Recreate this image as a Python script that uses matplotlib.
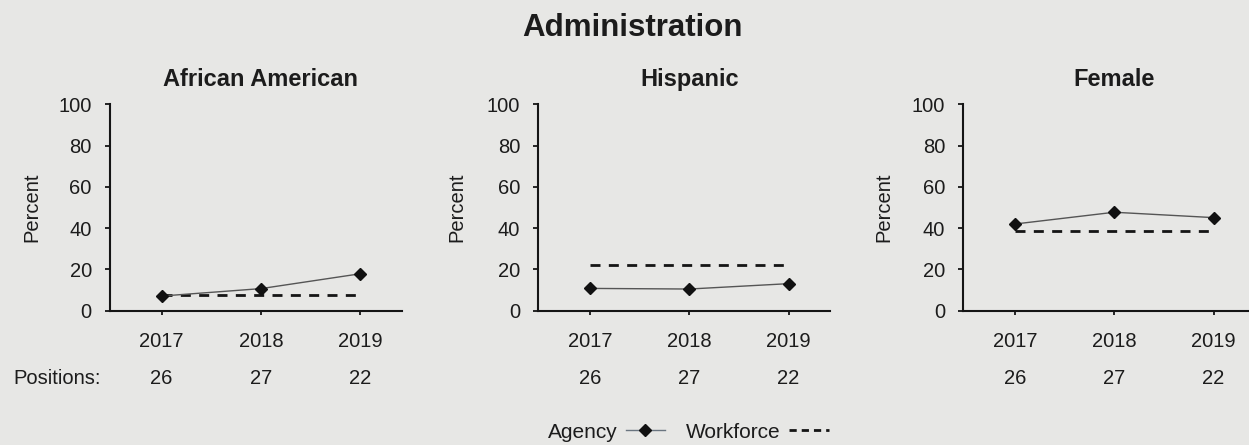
import matplotlib
matplotlib.use("Agg")
import matplotlib.pyplot as plt
from matplotlib.lines import Line2D

# ---- data ----
years = ["2017", "2018", "2019"]
positions = [26, 27, 22]
panel_titles = ["African American", "Hispanic", "Female"]
agency_aa = [7.1, 10.7, 17.9]
agency_hisp = [10.8, 10.5, 13.1]
agency_fem = [42.0, 47.7, 45.1]
workforce_aa = [7.8, 7.8, 7.8]
workforce_hisp = [22.1, 22.1, 22.1]
workforce_fem = [38.6, 38.6, 38.6]
yticks = [0, 20, 40, 60, 80, 100]

agency = [agency_aa, agency_hisp, agency_fem]
workforce = [workforce_aa, workforce_hisp, workforce_fem]

W, H = 1249, 445
BG = "#e7e7e5"
TXT = "#1c1c1c"
plt.rcParams["font.family"] = ["Liberation Sans", "DejaVu Sans"]

fig = plt.figure(figsize=(W / 100, H / 100), dpi=100, facecolor=BG)

def fx(x):
    return x / W

def fy(y):
    return 1 - y / H

lefts = [110, 538.3, 963.3]
ax_w = 292
ax_top, ax_bot = 104.3, 310.7

for i, left in enumerate(lefts):
    ax = fig.add_axes([fx(left), fy(ax_bot), ax_w / W, (ax_bot - ax_top) / H])
    ax.set_facecolor("none")
    x = list(range(len(years)))
    ax.plot(x, workforce[i], color="#151515", lw=2.0, dashes=(3.6, 3.0),
            solid_capstyle="butt", dash_capstyle="butt", zorder=2)
    ax.plot(x, agency[i], color="#555555", lw=1.0, marker="D", markersize=6.4,
            markerfacecolor="#111111", markeredgecolor="#111111", zorder=3,
            clip_on=False)
    ax.set_xlim(-0.52, 2.42)
    ax.set_ylim(0, 100)
    ax.set_yticks(yticks)
    ax.set_xticks(x)
    ax.set_xticklabels(years)
    for s in ["top", "right"]:
        ax.spines[s].set_visible(False)
    for s in ["left", "bottom"]:
        ax.spines[s].set_linewidth(1.5)
        ax.spines[s].set_color("#151515")
    ax.tick_params(axis="y", direction="out", length=3.6, width=1.3,
                   pad=9.5, labelsize=14.5, colors="#151515", labelcolor=TXT)
    ax.tick_params(axis="x", direction="out", length=3, width=1.3,
                   pad=12, labelsize=14.5, colors="#151515", labelcolor=TXT)
    # y label
    ylab_x = [31.7, 457, 884][i]
    ax.text((ylab_x - left) / ax_w, 0.5, "Percent", transform=ax.transAxes,
            rotation=90, ha="center", va="center", fontsize=14.5, color=TXT)
    # subtitle
    ax.text(1, (ax_bot - 86) / (ax_bot - ax_top), panel_titles[i],
            transform=ax.get_xaxis_transform(),
            ha="center", va="baseline", fontsize=17, fontweight="bold",
            color=TXT)
    # positions row
    for j, p in enumerate(positions):
        ax.text(j, -(384.5 - ax_bot) / (ax_bot - ax_top), str(p),
                transform=ax.get_xaxis_transform(), ha="center",
                va="baseline", fontsize=14.5, color=TXT)

fig.text(fx(632), fy(36), "Administration", ha="center", va="baseline",
         fontsize=22.5, fontweight="bold", color=TXT)
fig.text(fx(13), fy(384.5), "Positions:", ha="left", va="baseline",
         fontsize=14.5, color=TXT)

h_agency = Line2D([], [], color="#6a7580", lw=1.0, marker="D", markersize=6.4,
                  markerfacecolor="#111111", markeredgecolor="#111111")
h_work = Line2D([], [], color="#151515", lw=2.0, dashes=(2.6, 1.8))
fig.legend([h_agency, h_work], ["Agency", "Workforce"], ncol=2,
           markerfirst=False, frameon=False, loc="center",
           bbox_to_anchor=(fx(688), fy(432)), fontsize=15,
           handlelength=1.9, handletextpad=0.4, columnspacing=1.0,
           labelcolor=TXT)

fig.savefig("out.png", dpi=100, facecolor=BG)
